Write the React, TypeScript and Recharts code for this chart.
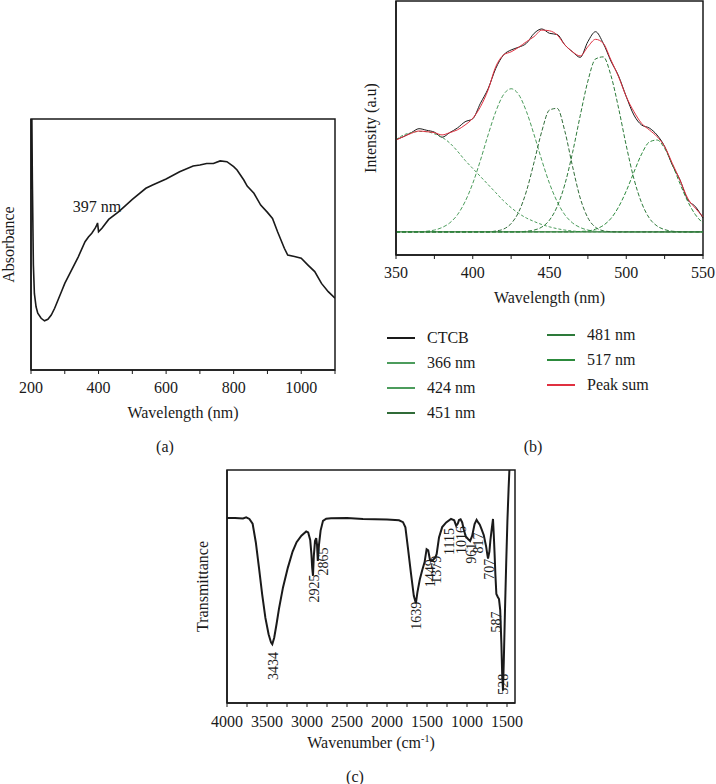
import { LineChart, Line, XAxis, YAxis, ReferenceLine, ReferenceDot, ReferenceArea, Legend } from 'recharts';

const FONT = "'Liberation Serif', 'Times New Roman', serif";
const INK = '#1a1a1a';

// (a) UV-vis absorbance
const uvWavelength = [201, 202, 204, 207, 210, 215, 220, 230, 240, 250, 260, 270, 280, 290, 300, 320, 340, 360, 370, 380, 390, 395, 397, 400, 410, 430, 460, 500, 540, 560, 600, 640, 680, 700, 720, 740, 760, 780, 800, 810, 830, 840, 860, 880, 900, 915, 930, 950, 960, 980, 1000, 1020, 1040, 1060, 1080, 1100];
const uvAbsorbance = [72, 110, 76, 42, 30.5, 25.2, 22.6, 20.6, 19.6, 20.2, 21.9, 24.6, 27.9, 31.2, 34.5, 39.8, 45.1, 51.1, 53.0, 54.5, 56.5, 57.8, 58.6, 55.1, 56.5, 60.0, 63.1, 68.0, 72.4, 73.7, 76.1, 79.0, 81.3, 81.7, 82.3, 82.3, 83.3, 83.0, 81.0, 79.7, 75.7, 73.3, 70.4, 65.7, 62.8, 60.4, 55.1, 48.5, 45.8, 45.2, 44.5, 41.8, 39.2, 34.5, 31.2, 28.6];
const uvTicks = [200, 300, 400, 500, 600, 700, 800, 900, 1000, 1100];

// (b) PL spectrum and its fitted peaks
const plWavelength = [350, 355, 360, 365, 370, 375, 380, 385, 390, 395, 400, 405, 410, 415, 420, 425, 430, 435, 440, 445, 450, 455, 460, 465, 470, 475, 480, 485, 490, 495, 500, 505, 510, 515, 520, 525, 530, 535, 540, 545, 550];
const plCtcb = [0.40, 0.413, 0.43, 0.447, 0.44, 0.432, 0.41, 0.43, 0.45, 0.477, 0.49, 0.557, 0.62, 0.708, 0.766, 0.788, 0.80, 0.817, 0.86, 0.879, 0.86, 0.855, 0.81, 0.78, 0.756, 0.824, 0.867, 0.817, 0.74, 0.675, 0.586, 0.506, 0.463, 0.45, 0.42, 0.37, 0.29, 0.225, 0.14, 0.11, 0.06];
const pl366 = [0.40, 0.42, 0.43, 0.435, 0.434, 0.425, 0.41, 0.385, 0.35, 0.31, 0.275, 0.24, 0.205, 0.17, 0.135, 0.105, 0.08, 0.06, 0.045, 0.032, 0.022, 0.014, 0.008, 0.004, 0.001, 0, 0, 0, 0, 0, 0, 0, 0, 0, 0, 0, 0, 0, 0, 0, 0];
const pl424 = [0, 0, 0, 0.001, 0.003, 0.008, 0.019, 0.039, 0.074, 0.131, 0.21, 0.31, 0.42, 0.521, 0.594, 0.62, 0.594, 0.521, 0.42, 0.31, 0.21, 0.131, 0.074, 0.039, 0.019, 0.008, 0.003, 0.001, 0, 0, 0, 0, 0, 0, 0, 0, 0, 0, 0, 0, 0];
const pl451 = [0, 0, 0, 0, 0, 0, 0, 0, 0, 0, 0, 0, 0, 0.004, 0.012, 0.036, 0.087, 0.177, 0.303, 0.436, 0.528, 0.535, 0.436, 0.284, 0.147, 0.061, 0.02, 0.005, 0.001, 0, 0, 0, 0, 0, 0, 0, 0, 0, 0, 0, 0];
const pl481 = [0, 0, 0, 0, 0, 0, 0, 0, 0, 0, 0, 0, 0, 0, 0, 0, 0, 0.003, 0.008, 0.021, 0.051, 0.11, 0.206, 0.343, 0.503, 0.653, 0.749, 0.758, 0.678, 0.536, 0.374, 0.23, 0.126, 0.06, 0.026, 0.01, 0.003, 0.001, 0, 0, 0];
const pl517 = [0, 0, 0, 0, 0, 0, 0, 0, 0, 0, 0, 0, 0, 0, 0, 0, 0, 0, 0, 0, 0, 0, 0, 0, 0.002, 0.004, 0.012, 0.028, 0.058, 0.108, 0.177, 0.259, 0.337, 0.389, 0.398, 0.362, 0.292, 0.209, 0.133, 0.075, 0.038];
const plPeakSum = [0.398, 0.413, 0.427, 0.437, 0.434, 0.43, 0.42, 0.43, 0.442, 0.463, 0.492, 0.542, 0.615, 0.716, 0.766, 0.78, 0.80, 0.824, 0.846, 0.874, 0.871, 0.853, 0.81, 0.78, 0.762, 0.802, 0.834, 0.817, 0.745, 0.672, 0.586, 0.521, 0.47, 0.442, 0.413, 0.37, 0.297, 0.225, 0.146, 0.103, 0.066];
const plTicks = [350, 375, 400, 425, 450, 475, 500, 525, 550];
const plSeriesNames = ['CTCB', '366 nm', '424 nm', '451 nm', '481 nm', '517 nm', 'Peak sum'];

// (c) FTIR
const irWavenumber = [4000, 3900, 3800, 3760, 3720, 3680, 3640, 3600, 3560, 3520, 3480, 3450, 3434, 3410, 3380, 3350, 3300, 3240, 3180, 3130, 3070, 3010, 2985, 2960, 2945, 2935, 2925, 2915, 2900, 2885, 2875, 2865, 2850, 2830, 2800, 2760, 2700, 2500, 2300, 2000, 1850, 1800, 1770, 1740, 1700, 1665, 1639, 1620, 1590, 1560, 1530, 1505, 1485, 1465, 1449, 1425, 1395, 1379, 1350, 1310, 1260, 1200, 1160, 1135, 1115, 1100, 1080, 1060, 1040, 1016, 990, 961, 935, 905, 880, 860, 840, 817, 790, 760, 745, 737, 720, 708, 690, 675, 665, 655, 645, 633, 615, 600, 585, 570, 560, 550, 540, 525, 510, 495, 480, 465, 450];
const irTransmittance = [79.4, 79.4, 79.2, 79.7, 79.0, 77.0, 69.0, 58.0, 46.5, 36.5, 29.5, 26.0, 25.2, 28.0, 34.0, 40.5, 49.6, 58.0, 65.0, 69.0, 71.8, 73.6, 73.2, 70.0, 64.0, 58.0, 54.6, 63.0, 69.5, 70.8, 68.0, 61.0, 68.0, 74.0, 78.2, 79.1, 79.3, 79.4, 79.0, 78.8, 78.4, 77.6, 75.4, 67.0, 55.5, 46.0, 42.8, 47.5, 53.0, 57.0, 60.5, 66.0, 65.5, 61.8, 61.0, 61.4, 62.5, 64.0, 71.0, 75.5, 77.5, 79.0, 78.4, 76.0, 77.0, 78.5, 78.8, 77.5, 74.5, 71.5, 70.5, 69.5, 71.8, 76.8, 78.6, 77.5, 76.5, 74.5, 72.0, 67.0, 63.5, 62.0, 65.0, 69.7, 75.0, 79.0, 72.0, 63.9, 55.0, 46.8, 45.5, 44.6, 40.0, 25.3, 12.0, 5.3, 18.0, 40.0, 60.0, 78.0, 92.0, 104, 115];
const irTicks = [4000, 3750, 3500, 3250, 3000, 2750, 2500, 2250, 2000, 1750, 1500, 1250, 1000, 750, 500];
const irMajorTicks = [4000, 3500, 3000, 2500, 2000, 1500, 1000, 500];
const irTickLabels = ['4000', '3500', '3000', '2500', '2000', '1500', '1000', '1500'];
const irPeakLabels = ['3434', '2925', '2865', '1639', '1449', '1379', '1115', '1016', '961', '817', '707', '587', '528'];
const irPeakLabelX = [3425, 2916, 2800, 1632, 1457, 1382, 1229, 1070, 954, 862, 729, 641, 550];
const irPeakLabelY = [15.9, 49.1, 60.7, 37.5, 55.7, 57.2, 69.3, 70.0, 64.3, 68.7, 57.4, 34.8, 8.1];

const uvData = uvWavelength.map((w, i) => ({ w, a: uvAbsorbance[i] }));
const plData = plWavelength.map((w, i) => ({
  w,
  ctcb: plCtcb[i],
  p366: pl366[i],
  p424: pl424[i],
  p451: pl451[i],
  p481: pl481[i],
  p517: pl517[i],
  sum: plPeakSum[i],
}));
const irData = irWavenumber.map((k, i) => ({ k, t: irTransmittance[i] }));

const axisStroke = { stroke: INK, strokeWidth: 1.5 };
const tickText = { fontSize: 16, fill: INK, fontFamily: FONT };
const titleText = { fontSize: 16, fill: INK, fontFamily: FONT };

function PlLegend({ payload }: any) {
  // legend sorts by name on its own; put it back in series order
  const items = [...(payload ?? [])].sort(
    (a: any, b: any) => plSeriesNames.indexOf(a.value) - plSeriesNames.indexOf(b.value),
  );
  const row = (e: any) => (
    <div key={e.value} style={{ display: 'flex', alignItems: 'center', height: 25 }}>
      <div style={{ width: 28, height: 0, borderTop: `2px solid ${e.color}` }} />
      <span style={{ marginLeft: 12, fontSize: 16, fontFamily: FONT, color: INK, lineHeight: 1 }}>{e.value}</span>
    </div>
  );
  return (
    <div style={{ position: 'relative', width: 320, height: 100 }}>
      <div style={{ position: 'absolute', left: 0, top: 0 }}>{items.slice(0, 4).map(row)}</div>
      <div style={{ position: 'absolute', left: 160, top: -3 }}>{items.slice(4).map(row)}</div>
    </div>
  );
}

function WavenumberLabel({ viewBox }: any) {
  const { x, y, width } = viewBox;
  return (
    <text x={x + width / 2} y={y + 45} textAnchor="middle" fontSize={16} fill={INK} fontFamily={FONT}>
      Wavenumber (cm<tspan dy={-6} fontSize={10}>-1</tspan>
      <tspan dy={6}>)</tspan>
    </text>
  );
}

const caption = (text: string, left: number, top: number) => (
  <div
    style={{
      position: 'absolute',
      left,
      top,
      transform: 'translate(-50%, -50%)',
      fontSize: 16,
      lineHeight: 1,
      fontFamily: FONT,
      color: INK,
    }}
  >
    {text}
  </div>
);

export default function App() {
  return (
    <div style={{ position: 'absolute', left: 0, top: 0, width: 716, height: 784, background: '#fff', fontFamily: FONT }}>
      {/* (a) */}
      <div style={{ position: 'absolute', left: 0, top: 0 }}>
        <LineChart width={350} height={430} data={uvData} margin={{ top: 119, right: 15, bottom: 0, left: 0 }} style={{ fontFamily: FONT }}>
          <XAxis
            dataKey="w"
            type="number"
            domain={[200, 1100]}
            ticks={uvTicks}
            interval={0}
            tickFormatter={(v: number) => (v % 200 === 0 ? String(v) : '')}
            height={60}
            axisLine={axisStroke}
            tickLine={{ stroke: INK }}
            tickSize={4}
            tickMargin={8}
            tick={tickText}
            allowDataOverflow
            label={{ value: 'Wavelength (nm)', position: 'insideBottom', offset: 12, fontFamily: FONT, style: titleText }}
          />
          <YAxis
            type="number"
            domain={[0, 100]}
            width={31}
            tick={false}
            tickLine={false}
            axisLine={axisStroke}
            allowDataOverflow
            label={{ value: 'Absorbance', angle: -90, position: 'insideLeft', offset: 8, style: { ...titleText, textAnchor: 'middle' } }}
          />
          <ReferenceArea x1={200} x2={1100} y1={0} y2={100} fill="none" stroke={INK} strokeWidth={1.5} />
          <Line type="linear" dataKey="a" stroke={INK} strokeWidth={1.6} dot={false} isAnimationActive={false} />
          <ReferenceDot
            x={395}
            y={65.3}
            r={0}
            fill="none"
            stroke="none"
            label={{ value: '397 nm', position: 'center', fontSize: 16, fill: INK, fontFamily: FONT }}
          />
        </LineChart>
      </div>

      {/* (b) */}
      <div style={{ position: 'absolute', left: 350, top: 0 }}>
        <LineChart width={366} height={430} data={plData} margin={{ top: 1, right: 13, bottom: 0, left: 0 }} style={{ fontFamily: FONT }}>
          <XAxis
            dataKey="w"
            type="number"
            domain={[350, 550]}
            ticks={plTicks}
            interval={0}
            tickFormatter={(v: number) => (v % 50 === 0 ? String(v) : '')}
            height={175}
            axisLine={axisStroke}
            tickLine={{ stroke: INK }}
            tickSize={4}
            tickMargin={8}
            tick={tickText}
            label={{ value: 'Wavelength (nm)', position: 'insideTop', offset: 37, fontFamily: FONT, style: titleText }}
          />
          <YAxis
            type="number"
            domain={[-0.1, 1.0]}
            width={46}
            tick={false}
            tickLine={false}
            axisLine={axisStroke}
            label={{ value: 'Intensity (a.u)', angle: -90, position: 'insideLeft', offset: 20, style: { ...titleText, textAnchor: 'middle' } }}
          />
          <ReferenceArea x1={350} x2={550} y1={-0.1} y2={1.0} fill="none" stroke={INK} strokeWidth={1.5} />
          <ReferenceLine y={0} stroke="#2a6e30" strokeWidth={1.2} />
          <Line type="monotone" dataKey="ctcb" name="CTCB" stroke={INK} strokeWidth={1} dot={false} isAnimationActive={false} />
          <Line type="monotone" dataKey="p366" name="366 nm" stroke="#4c9c5c" strokeWidth={1} strokeDasharray="3 2" dot={false} isAnimationActive={false} />
          <Line type="monotone" dataKey="p424" name="424 nm" stroke="#4c9c5c" strokeWidth={1} strokeDasharray="4 2" dot={false} isAnimationActive={false} />
          <Line type="monotone" dataKey="p451" name="451 nm" stroke="#306b38" strokeWidth={1} strokeDasharray="4 2" dot={false} isAnimationActive={false} />
          <Line type="monotone" dataKey="p481" name="481 nm" stroke="#2d7a3a" strokeWidth={1} strokeDasharray="4 2" dot={false} isAnimationActive={false} />
          <Line type="monotone" dataKey="p517" name="517 nm" stroke="#2c8a3c" strokeWidth={1} strokeDasharray="4 2" dot={false} isAnimationActive={false} />
          <Line type="monotone" dataKey="sum" name="Peak sum" stroke="#e03040" strokeWidth={1} dot={false} isAnimationActive={false} />
          <Legend
            layout="horizontal"
            verticalAlign="middle"
            align="center"
            wrapperStyle={{ left: 37, top: 325, width: 320, height: 100 }}
            content={<PlLegend />}
          />
        </LineChart>
      </div>

      {/* (c) */}
      <div style={{ position: 'absolute', left: 180, top: 440 }}>
        <LineChart width={360} height={344} data={irData} margin={{ top: 30, right: 25, bottom: 0, left: 0 }} style={{ fontFamily: FONT }}>
          <XAxis
            dataKey="k"
            type="number"
            domain={[400, 4000]}
            reversed
            ticks={irTicks}
            interval={0}
            tickFormatter={(v: number) => {
              const idx = irMajorTicks.indexOf(v);
              return idx >= 0 ? irTickLabels[idx] : '';
            }}
            height={81}
            axisLine={axisStroke}
            tickLine={{ stroke: INK }}
            tickSize={4}
            tickMargin={9}
            tick={tickText}
            allowDataOverflow
            label={{ content: <WavenumberLabel /> }}
          />
          <YAxis
            type="number"
            domain={[0, 100]}
            width={47}
            tick={false}
            tickLine={false}
            axisLine={axisStroke}
            allowDataOverflow
            label={{ value: 'Transmittance', angle: -90, position: 'insideLeft', offset: 22, style: { ...titleText, textAnchor: 'middle' } }}
          />
          <ReferenceArea x1={400} x2={4000} y1={0} y2={100} fill="none" stroke={INK} strokeWidth={1.5} />
          <Line type="linear" dataKey="t" stroke={INK} strokeWidth={2} dot={false} isAnimationActive={false} />
          {irPeakLabels.map((p, i) => (
            <ReferenceDot
              key={p}
              x={irPeakLabelX[i]}
              y={irPeakLabelY[i]}
              r={0}
              fill="none"
              stroke="none"
              label={{ value: p, angle: -90, position: 'center', fontSize: 14, fill: INK, fontFamily: FONT }}
            />
          ))}
        </LineChart>
      </div>

      {caption('(a)', 165, 447)}
      {caption('(b)', 533, 447)}
      {caption('(c)', 355, 777)}
    </div>
  );
}
